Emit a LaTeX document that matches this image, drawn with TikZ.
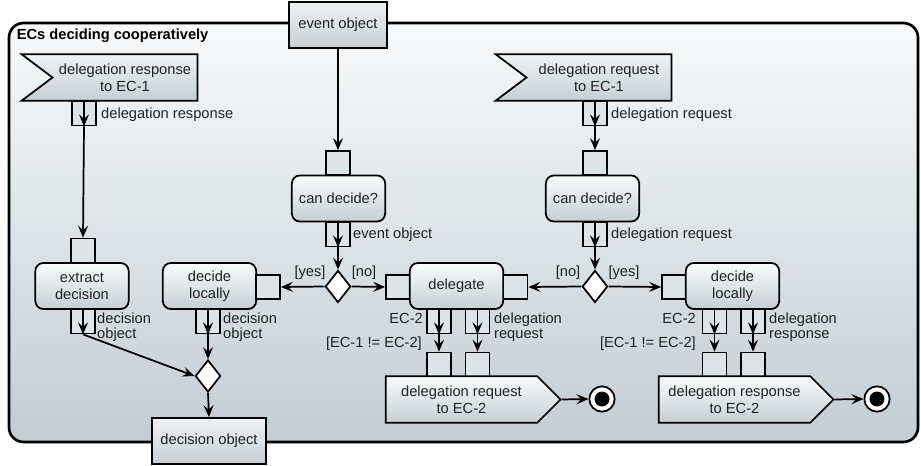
\documentclass[tikz,border=0pt]{standalone}
\usepackage{fontspec}
\setmainfont{Liberation Sans}
\usetikzlibrary{shapes.geometric,shapes.symbols,arrows.meta}
\definecolor{pinfill}{HTML}{DDE4E7}
\definecolor{shadetop}{HTML}{FAFBFB}
\definecolor{shadebot}{HTML}{C4D0D5}
\definecolor{frametop}{HTML}{F8F9FA}
\definecolor{framebot}{HTML}{C2CED3}
\definecolor{ink}{HTML}{222222}
\begin{document}
\begin{tikzpicture}[x=0.75pt, y=-0.75pt, line width=1.3pt,
	every node/.style={font=\fontsize{11}{13}\selectfont, text=ink},
	action/.style={rectangle, rounded corners=6pt, draw, top color=shadetop, bottom color=shadebot, minimum width=70pt, minimum height=34.5pt, align=center, inner sep=1pt},
	objbox/.style={rectangle, draw, top color=shadetop!80!shadebot, bottom color=shadebot, minimum width=73.5pt, minimum height=34.5pt},
	pin/.style={rectangle, draw, fill=pinfill, minimum size=18pt, inner sep=0pt},
	choice/.style={diamond, draw, fill=white, minimum width=19pt, minimum height=24pt, inner sep=0pt},
	recv/.style={signal, signal from=west, signal to=nowhere, signal pointer angle=74, draw, top color=shadetop!80!shadebot, bottom color=shadebot, minimum width=132pt, minimum height=35pt, align=center, inner sep=1pt},
	send/.style={signal, signal to=east, signal from=nowhere, signal pointer angle=90, draw, top color=shadetop, bottom color=shadebot, minimum width=131pt, minimum height=35pt, align=center, inner sep=1pt},
	final/.style={circle, draw, fill=white, minimum size=19pt, inner sep=0pt, path picture={\fill[black] (path picture bounding box.center) circle (5.6pt);}},
	lbl/.style={inner sep=1pt, align=left, font=\fontsize{11}{11}\selectfont},
	flow/.style={-{Stealth[length=9pt, width=7.5pt, inset=3.5pt]}}]
	\useasboundingbox (0,0) rectangle (921,466);
	\shade[top color=frametop, bottom color=framebot, draw, line width=2pt, rounded corners=11pt] (9,23) rectangle (918,442);
	\node[anchor=west, font=\bfseries\fontsize{11}{13}\selectfont, text=black, inner sep=0pt] (title) at (16,36) {ECs deciding cooperatively};
	
	\node[objbox] (eventobj) at (338,25) {event object};
	\node[recv] (recvresp) at (125,77.5) {delegation response\\to EC-1};
	\node[recv] (recvreq) at (599,77.5) {delegation request\\to EC-1};
	
	\node[pin] (respout) at (84,113.5) {};
	\node[pin] (exin) at (83,250.5) {};
	\node[action] (extract) at (82,286) {extract\\decision};
	\node[pin] (exout) at (83,321.5) {};
	
	\node[action] (decleft) at (209.5,286) {decide\\locally};
	\node[pin] (decleftin) at (268,287) {};
	\node[pin] (decleftout) at (208,321.5) {};
	\node[choice] (merge) at (208,376) {};
	\node[objbox, minimum width=85.5pt] (decobj) at (209,441) {decision object};
	
	\node[pin] (canin) at (338,163) {};
	\node[action] (can) at (338.5,198.5) {can decide?};
	\node[pin] (canout) at (338,234.5) {};
	\node[choice] (choiceA) at (338,286.5) {};
	
	\node[pin] (delin) at (398,287) {};
	\node[action] (delegate) at (456.5,286) {delegate};
	\node[pin] (delinr) at (515.5,287) {};
	\node[pin] (delA) at (439,321.5) {};
	\node[pin] (delB) at (477.5,321.5) {};
	\node[pin] (reqA) at (439,364.5) {};
	\node[pin] (reqB) at (477.5,364.5) {};
	\node[send] (sendreq) at (461.5,399.5) {delegation request\\to EC-2};
	\node[final] (endA) at (602,399) {};
	
	\node[pin] (reqout) at (595,113.5) {};
	\node[pin] (cantwoin) at (595,163) {};
	\node[action] (cantwo) at (592.5,198.5) {can decide?};
	\node[pin] (cantwoout) at (595,234.5) {};
	\node[choice] (choiceB) at (595,286.5) {};
	
	\node[pin] (decrightin) at (674,287) {};
	\node[action] (decright) at (732.5,286) {decide\\locally};
	\node[pin] (decrA) at (714.5,321.5) {};
	\node[pin] (decrB) at (753,321.5) {};
	\node[pin] (respA) at (714.5,364.5) {};
	\node[pin] (respB) at (753,364.5) {};
	\node[send] (sendresp) at (734.5,399.5) {delegation response\\to EC-2};
	\node[final] (endB) at (877,399) {};
	
	\node[lbl, anchor=west] (lrespout) at (99,115) {delegation response};
	\node[lbl, anchor=west] (lexout) at (95,327) {decision\\object};
	\node[lbl, anchor=west] (ldecleft) at (221,327) {decision\\object};
	\node[lbl, anchor=west] (lcanout) at (351,235) {event object};
	\node[lbl] (lyesA) at (310,273) {[yes]};
	\node[lbl] (lnoA) at (364,273) {[no]};
	\node[lbl, anchor=east] (lecA) at (425,318) {EC-2};
	\node[lbl, anchor=east] (lguardA) at (424,344) {[EC-1 != EC-2]};
	\node[lbl, anchor=west] (ldelB) at (492,327) {delegation\\request};
	\node[lbl, anchor=west] (lreqout) at (609,115) {delegation request};
	\node[lbl, anchor=west] (lcantwo) at (609,235) {delegation request};
	\node[lbl] (lnoB) at (568,273) {[no]};
	\node[lbl] (lyesB) at (624,273) {[yes]};
	\node[lbl, anchor=east] (lecB) at (698,318) {EC-2};
	\node[lbl, anchor=east] (lguardB) at (698,344) {[EC-1 != EC-2]};
	\node[lbl, anchor=west] (ldecrB) at (767,327) {delegation\\response};
	
	\draw[flow] (eventobj)--(canin);
	\draw[flow] (respout.north)--(respout.south);
	\draw[flow] (respout.south)--(exin.north);
	\draw[flow] (exout.north)--(exout.south);
	\draw[flow] (exout.south)--(merge.west);
	\draw[flow] (decleftout.north)--(decleftout.south);
	\draw[flow] (decleftout.south)--(merge.north);
	\draw[flow] (merge.south)--(decobj.north);
	\draw[flow] (canout.north)--(canout.south);
	\draw[flow] (canout.south)--(choiceA.north);
	\draw[flow] (choiceA.west)--(decleftin.east);
	\draw[flow] (choiceA.east)--(delin.west);
	\draw[flow] (delA.north)--(delA.south);
	\draw[flow] (delA.south)--(reqA.north);
	\draw[flow] (delB.north)--(delB.south);
	\draw[flow] (delB.south)--(reqB.north);
	\draw[flow] (sendreq.east)--(endA.west);
	\draw[flow] (reqout.north)--(reqout.south);
	\draw[flow] (reqout.south)--(cantwoin.north);
	\draw[flow] (cantwoout.north)--(cantwoout.south);
	\draw[flow] (cantwoout.south)--(choiceB.north);
	\draw[flow] (choiceB.west)--(delinr.east);
	\draw[flow] (choiceB.east)--(decrightin.west);
	\draw[flow] (decrA.north)--(decrA.south);
	\draw[flow] (decrA.south)--(respA.north);
	\draw[flow] (decrB.north)--(decrB.south);
	\draw[flow] (decrB.south)--(respB.north);
	\draw[flow] (sendresp.east)--(endB.west);
\end{tikzpicture}
\end{document}
